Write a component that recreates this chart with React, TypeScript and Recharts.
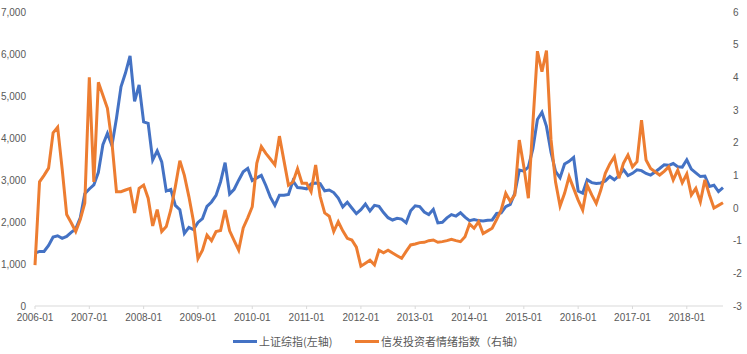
import { Line, LineChart, XAxis, YAxis } from "recharts";

// monthly categories 2006-01 .. 2018-09
const months: string[] = [];
for (let y = 2006; y <= 2018; y++) {
  for (let m = 1; m <= 12; m++) {
    if (y === 2018 && m > 9) break;
    months.push(`${y}-${String(m).padStart(2, "0")}`);
  }
}

// 上证综指 (left axis)
const shIndex = [
  1258, 1299, 1298, 1440, 1641, 1672, 1612, 1658, 1752, 1837, 2099, 2675,
  2786, 2881, 3183, 3841, 4109, 3820, 4471, 5218, 5552, 5954, 4871, 5262,
  4383, 4348, 3473, 3693, 3433, 2736, 2775, 2397, 2293, 1729, 1871, 1821,
  1991, 2082, 2373, 2477, 2633, 2959, 3412, 2667, 2779, 2996, 3195, 3277,
  2989, 3051, 3110, 2870, 2592, 2398, 2638, 2638, 2656, 2979, 2820, 2808,
  2790, 2905, 2928, 2911, 2743, 2762, 2701, 2568, 2359, 2469, 2333, 2199,
  2293, 2428, 2263, 2397, 2373, 2225, 2103, 2047, 2086, 2069, 1980, 2269,
  2385, 2366, 2237, 2178, 2301, 1979, 1994, 2098, 2175, 2141, 2220, 2116,
  2033, 2056, 2033, 2026, 2039, 2048, 2202, 2217, 2364, 2420, 2683, 3235,
  3210, 3310, 3748, 4442, 4612, 4277, 3664, 3206, 3053, 3383, 3445, 3539,
  2738, 2688, 3004, 2938, 2917, 2930, 2979, 3085, 3005, 3100, 3250, 3104,
  3159, 3242, 3223, 3155, 3117, 3192, 3273, 3361, 3349, 3393, 3317, 3307,
  3481, 3259, 3169, 3082, 3095, 2847, 2876, 2725, 2821,
];

// 情绪指数 (right axis)
const sentiment = [
  -1.75, 0.8, 1.0, 1.22, 2.3, 2.47, 1.2, -0.2, -0.45, -0.72, -0.35, 0.15,
  4.0, 0.8, 3.85, 3.45, 3.05, 2.0, 0.5, 0.5, 0.55, 0.6, -0.15, 0.6,
  0.7, 0.3, -0.55, -0.05, -0.72, -0.57, -0.06, 0.65, 1.45, 1.0, 0.35, -0.4,
  -1.55, -1.29, -0.83, -1.0, -0.72, -0.69, -0.06, -0.7, -1.0, -1.29, -0.61, -0.3,
  0.04, 1.37, 1.88, 1.67, 1.5, 1.32, 2.2, 1.45, 0.7, 0.8, 1.2, 0.76,
  0.76, 0.5, 1.32, 0.35, -0.15, -0.25, -0.72, -0.42, -0.7, -0.93, -0.98, -1.2,
  -1.78, -1.69, -1.6, -1.74, -1.29, -1.37, -1.29, -1.38, -1.46, -1.54, -1.33, -1.13,
  -1.1, -1.06, -1.05, -1.0, -0.98, -1.05, -1.03, -1.0, -0.96, -1.0, -1.03, -0.88,
  -0.49, -0.62, -0.42, -0.78, -0.7, -0.62, -0.35, -0.06, 0.45, 0.2, 0.4, 2.08,
  1.26, 0.3, 2.6, 4.8, 4.17, 4.82, 2.1, 0.8, 0.06, 0.45, 0.96, 0.6,
  0.24, -0.06, 0.7, 0.4, 0.14, 0.55, 1.06, 1.35, 1.57, 0.91, 1.37, 1.62,
  1.26, 1.42, 2.69, 1.47, 1.21, 1.11, 1.01, 1.12, 1.26, 0.86, 1.16, 0.77,
  1.04, 0.4, 0.6, 0.19, 0.86, 0.4, 0.0, 0.08, 0.16,
];

const leftTicks = [0, 1000, 2000, 3000, 4000, 5000, 6000, 7000];
const rightTicks = [-3, -2, -1, 0, 1, 2, 3, 4, 5, 6];

const data = months.map((m, i) => ({
  month: m,
  sh: shIndex[i],
  sentiment: sentiment[i],
}));

const BLUE = "#4472C4";
const ORANGE = "#ED7D31";
const TEXT = "#595959";
const tickStyle = { fontSize: 10, fill: TEXT, fontFamily: "'Liberation Sans', Arial, sans-serif" };

const legendText: React.CSSProperties = {
  position: "absolute",
  top: 334,
  fontSize: 11,
  lineHeight: "14px",
  color: TEXT,
  fontFamily: "'Noto Sans CJK SC', sans-serif",
  whiteSpace: "nowrap",
};

export default function App() {
  return (
    <div style={{ position: "absolute", left: 0, top: 0, width: 747, height: 354, background: "#fff" }}>
      <LineChart width={747} height={354} data={data} margin={{ top: 12, right: 0, left: 0, bottom: 0 }}>
        <XAxis
          dataKey="month"
          interval={11}
          height={48}
          tick={tickStyle}
          tickSize={3}
          tickMargin={5}
          stroke="#d9d9d9"
        />
        <YAxis
          yAxisId="left"
          width={35}
          domain={[0, 7000]}
          ticks={leftTicks}
          tickFormatter={(v) => Number(v).toLocaleString("en-US")}
          tick={tickStyle}
          axisLine={false}
          tickLine={false}
          tickSize={0}
          tickMargin={9}
        />
        <YAxis
          yAxisId="right"
          orientation="right"
          width={24}
          domain={[-3, 6]}
          ticks={rightTicks}
          tick={tickStyle}
          axisLine={false}
          tickLine={false}
          tickSize={0}
          tickMargin={10}
        />
        <Line
          yAxisId="left"
          type="linear"
          dataKey="sh"
          stroke={BLUE}
          strokeWidth={3}
          dot={false}
          isAnimationActive={false}
        />
        <Line
          yAxisId="right"
          type="linear"
          dataKey="sentiment"
          stroke={ORANGE}
          strokeWidth={3}
          dot={false}
          isAnimationActive={false}
        />
      </LineChart>
      <span style={{ position: "absolute", left: 233, top: 340, width: 24, height: 3, background: BLUE }} />
      <span style={{ ...legendText, left: 259 }}>上证综指(左轴)</span>
      <span style={{ position: "absolute", left: 355, top: 340, width: 24, height: 3, background: ORANGE }} />
      <span style={{ ...legendText, left: 381 }}>信发投资者情绪指数（右轴）</span>
    </div>
  );
}
